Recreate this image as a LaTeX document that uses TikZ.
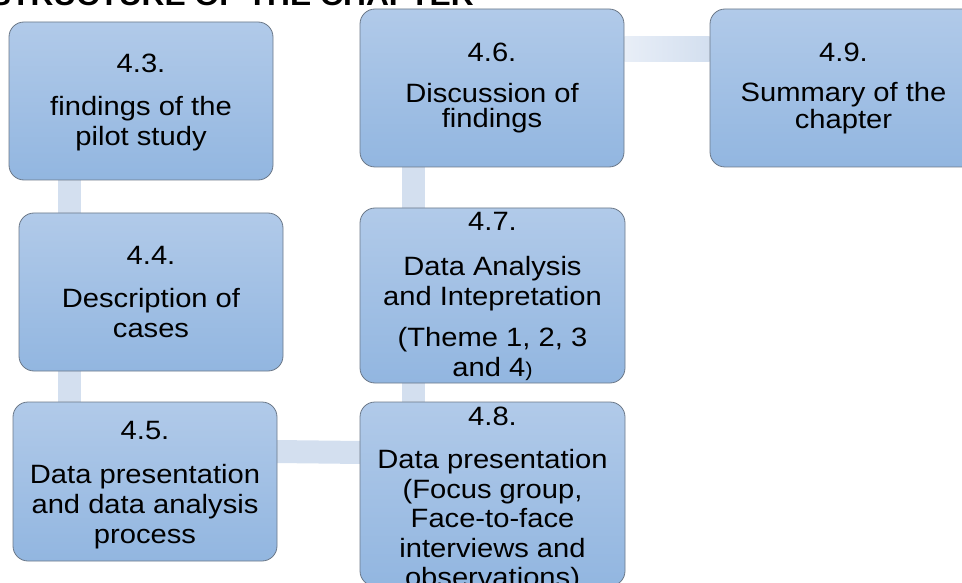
\documentclass[tikz,border=0pt]{standalone}
\usepackage{fontspec}
\setmainfont{Liberation Sans}[FakeStretch=1.1]
\usetikzlibrary{backgrounds}
\definecolor{boxtop}{HTML}{B1CAE9}
\definecolor{boxbot}{HTML}{92B6E0}
\definecolor{boxline}{HTML}{6B7888}
\definecolor{bandc}{HTML}{D3DFEF}
\definecolor{bandl}{HTML}{E8EEF7}
\newcommand\tline[4]{\node[txt] (#1) at (#2,-#3) {#4};}
\begin{document}
\begin{tikzpicture}[x=1pt,y=1pt,
  box/.style={draw=boxline, line width=0.8pt, rounded corners=15pt, top color=boxtop, bottom color=boxbot, minimum width=264pt, minimum height=158pt, inner sep=0pt},
  txt/.style={anchor=base, inner sep=0pt, font=\fontsize{26.5}{30}\selectfont},
  band/.style={draw=bandc, line width=23pt}]
\useasboundingbox (0,0) rectangle (962,-583);
% title
\node[anchor=base east, inner sep=0pt, font=\bfseries\fontsize{28.9}{34}\selectfont] (title) at (474,-6) {STRUCTURE OF THE CHAPTER};
% boxes
\node[box] (b43) at (141,-101) {};
\node[box] (b44) at (151,-292) {};
\node[box, minimum height=159pt] (b45) at (145,-481.5) {};
\node[box, minimum width=265pt, minimum height=175pt] (b47) at (492.5,-295.5) {};
\node[box, minimum width=265pt, minimum height=184pt] (b48) at (492.5,-494) {};
\node[box] (b46) at (492,-88) {};
\node[box, minimum width=267pt] (b49) at (843.5,-88) {};
% connectors
\begin{pgfonlayer}{background}
\draw[band] ([xshift=-72pt]b43.center) -- ([xshift=-82pt]b44.center);
\draw[band] ([xshift=-82pt]b44.center) -- ([xshift=-76pt]b45.center);
\draw[band] ([yshift=31.5pt]b45.center) -- ([yshift=40pt]b48.center);
\draw[band] ([xshift=-79pt]b48.center) -- ([xshift=-79pt]b47.center);
\draw[band] ([xshift=-79pt]b47.center) -- ([xshift=-78.5pt]b46.center);
\shade[left color=bandl, right color=bandc] ([yshift=26pt]b46.east) rectangle ([yshift=51pt]b49.west);
\end{pgfonlayer}
% texts
\tline{t43a}{141}{73}{4.3.}
\tline{t43b}{141}{116}{findings of the}
\tline{t43c}{141}{146}{pilot study}
\tline{t44a}{151}{265}{4.4.}
\tline{t44b}{151}{307}{Description of}
\tline{t44c}{151}{337}{cases}
\tline{t45a}{145}{439}{4.5.}
\tline{t45b}{145}{483}{Data presentation}
\tline{t45c}{145}{513}{and data analysis}
\tline{t45d}{145}{543}{process}
\tline{t46a}{492}{62}{4.6.}
\tline{t46b}{492}{102.5}{Discussion of}
\tline{t46c}{492}{128}{findings}
\tline{t47a}{492.5}{230}{4.7.}
\tline{t47b}{492.5}{275.5}{Data Analysis}
\tline{t47c}{492.5}{305}{and Intepretation}
\tline{t47d}{492.5}{346}{(Theme 1, 2, 3}
\tline{t47e}{492.5}{376}{and 4{\fontsize{20}{24}\selectfont)}}
\tline{t48a}{492.5}{425.5}{4.8.}
\tline{t48b}{492.5}{468}{Data presentation}
\tline{t48c}{492.5}{498}{(Focus group,}
\tline{t48d}{492.5}{527}{Face-to-face}
\tline{t48e}{492.5}{557}{interviews and}
\tline{t48f}{492.5}{586}{observations)}
\tline{t49a}{843.5}{62}{4.9.}
\tline{t49b}{843.5}{102}{Summary of the}
\tline{t49c}{843.5}{129}{chapter}
\end{tikzpicture}
\end{document}
